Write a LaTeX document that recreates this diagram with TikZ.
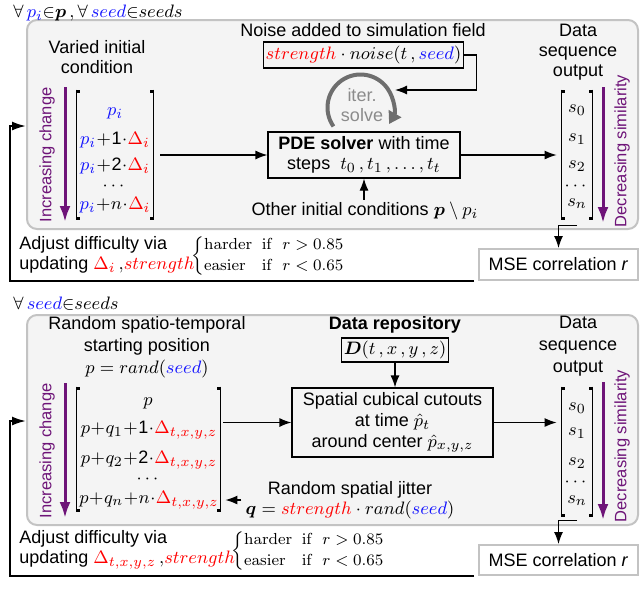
\documentclass[tikz,border=0pt]{standalone}
\usepackage{amsmath}
\usepackage[no-math]{fontspec}
\setmainfont{Liberation Sans}
\usetikzlibrary{arrows.meta,calc}
\definecolor{pur}{RGB}{110,20,120}
\definecolor{boxgray}{RGB}{244,244,244}
\definecolor{bordgray}{RGB}{195,195,195}
\definecolor{itergray}{RGB}{110,110,110}
\definecolor{rd}{RGB}{255,0,0}
\definecolor{bl}{RGB}{20,20,255}
\DeclareMathSizes{9}{9.3}{6.8}{5.5}
\newcommand\redm[1]{{\color{rd}#1}}
\newcommand\bluem[1]{{\color{bl}#1}}
\newcommand\drawbrackets[1]{%
  \draw[line width=0.6pt] (#1.north west) -- (#1.south west);
  \draw[line width=0.6pt] (#1.north east) -- (#1.south east);
  \fill (#1.north west) rectangle ++(3,3);
  \fill (#1.south west) rectangle ++(3,-3);
  \fill (#1.north east) rectangle ++(-3,3);
  \fill (#1.south east) rectangle ++(-3,-3);
}
\begin{document}
\begin{tikzpicture}[x=0.5pt,y=-0.5pt,
  every node/.style={font=\fontsize{9}{10}\selectfont},
  txt/.style={align=center, inner sep=0},
  ent/.style={inner sep=0, execute at begin node={\medmuskip=0.5mu}},
  graybox/.style={draw=bordgray, fill=boxgray, line width=1pt, rounded corners=5pt, inner sep=0},
  blackbox/.style={draw=black, line width=0.6pt, inner sep=1pt},
  msebox/.style={draw=bordgray, line width=1pt, fill=white, minimum width=79.5pt, inner sep=0},
  mat/.style={inner sep=0},
  casestxt/.style={anchor=west, inner sep=0, font=\fontsize{8.5}{10.2}\selectfont},
  arr/.style={line width=0.6pt, -{Latex[length=6pt,width=4.5pt]}},
  parr/.style={draw=pur, line width=1.5pt, -{Latex[length=8pt,width=5.5pt]}},
  fb/.style={line width=1pt, -{Latex[length=7pt,width=4.5pt]}},
  rottxt/.style={rotate=90, text=pur, inner sep=0, font=\fontsize{8.25}{10}\selectfont}]
\useasboundingbox (0,0) rectangle (640,611);

% ================= TOP SECTION =================
\node[graybox, minimum width=305.5pt, minimum height=104.5pt] (g1) at (332.5,124.5) {};
\node[anchor=base west, inner sep=0] (q1) at (13,17) {$\forall\, \bluem{p_i}{\in}\boldsymbol{p}\,, \forall\, \bluem{seed}{\in}seeds$};

\node[txt] (noiselbl) at (363,30) {Noise added to simulation field};
\node[blackbox, minimum width=98.5pt, minimum height=13pt] (noise) at (363.5,55) {$\redm{strength}\cdot noise(t\,,\bluem{seed})$};

\node[txt] (varied) at (97,57) {Varied initial\\condition};
\node[mat, minimum width=38pt, minimum height=65pt] (m1) at (115,155) {};
\drawbrackets{m1}
\node[ent] (e11) at (115,113) {$\bluem{p_i}$};
\node[ent] (e12) at (115,140) {$\bluem{p_i}+\mbox{1}\cdot\redm{\Delta_i}$};
\node[ent] (e13) at (115,166) {$\bluem{p_i}+\mbox{2}\cdot\redm{\Delta_i}$};
\node[ent] (e14) at (115,186) {$\cdots$};
\node[ent] (e15) at (115,205) {$\bluem{p_i}+n\cdot\redm{\Delta_i}$};

\node[blackbox, minimum width=96pt, minimum height=23pt, align=center] (pde) at (364,155) {\textbf{PDE solver} with time\\steps\ \ $t_0\,,t_1\,,\ldots,t_t$};

\coordinate (ic) at (360.5,107.5);
\draw[itergray, line width=2pt, -{Triangle[length=6pt,width=7pt]}] ([shift={(215:16.5pt)}]ic) arc[start angle=215, end angle=-30, radius=16.5pt];
\node[txt, text=itergray!80] (iter) at (362,105.5) {iter.\\solve};
\coordinate (itip) at (395,90);
\draw[arr] (noise.east) -- ++(13,0) |- (itip);

\node[txt] (other) at (365,211) {Other initial conditions $\boldsymbol{p}\setminus p_i$};
\draw[arr] ([yshift=1pt]pde.south |- other.north) -- (pde.south);

\node[txt] (data1) at (578,52) {Data\\sequence\\output};
\node[mat, minimum width=15pt, minimum height=65pt] (s1) at (577,155) {};
\drawbrackets{s1}
\node[ent] (t10) at (577,110) {$s_0$};
\node[ent] (t11) at (577,139) {$s_1$};
\node[ent] (t12) at (577,166) {$s_2$};
\node[ent] (t13) at (577,186) {$\cdots$};
\node[ent] (t14) at (577,204) {$s_n$};

\draw[arr] ([xshift=3.5pt]m1.east) -- (pde.west);
\draw[arr] (pde.east) -- ([xshift=-2.5pt]s1.west);

\coordinate (pa1) at (65,87); \coordinate (pb1) at (65,222);
\draw[parr] (pa1) -- (pb1);
\node[rottxt] (inc1) at (47,155) {Increasing change};
\coordinate (pc1) at (603,87); \coordinate (pd1) at (603,223);
\draw[parr] (pc1) -- (pd1);
\node[rottxt] (dec1) at (622,151) {Decreasing similarity};

\node[msebox, minimum height=15.5pt] (mse1) at (558.5,264.5) {MSE correlation \textit{r}};
\draw[arr] ([yshift=-2.5pt]s1.south) -| (mse1.north);
\coordinate (fbc1) at (10,126);
\draw[fb] ([xshift=-2pt]mse1.south west) -| (fbc1) -- (fbc1 -| g1.west);

\node[anchor=west, align=left, inner sep=0] (adj1) at (19,255) {Adjust difficulty via\\updating $\redm{\Delta_i}\,{,}\redm{strength}$};
\node[casestxt] (cases1) at (191,256) {$\left\{\begin{array}{@{}l@{\ \ }l@{}}\mathrm{harder} & \mathrm{if}\ \ r > 0.85\\ \mathrm{easier} & \mathrm{if}\ \ r < 0.65\end{array}\right.$};

% ================= BOTTOM SECTION =================
\node[graybox, minimum width=305.5pt, minimum height=105pt] (g2) at (332.5,420) {};
\node[anchor=base west, inner sep=0] (q2) at (13,309) {$\forall\, \bluem{seed}{\in}seeds$};

\node[txt, font=\fontsize{9}{11}\selectfont] (rand) at (147,347) {Random spatio-temporal\\starting position\\$p = rand(\bluem{seed})$};
\node[txt, font=\fontsize{9}{10}\selectfont\bfseries] (repo) at (395,325) {Data repository};
\node[blackbox, minimum width=52pt, minimum height=12pt] (D) at (395,350) {$\boldsymbol{D}(t\,,x\,,y\,,z)$};
\node[blackbox, minimum width=100.5pt, minimum height=34.5pt, align=center, font=\fontsize{9}{10.6}\selectfont] (sp) at (392.5,422.5) {Spatial cubical cutouts\\at time $\hat{p}_t$\\around center $\hat{p}_{x,y,z}$};
\draw[arr] (D.south) -- (D.south |- sp.north);

\node[mat, minimum width=71.5pt, minimum height=62.5pt] (m2) at (148.5,449.5) {};
\drawbrackets{m2}
\node[ent] (e21) at (148,403) {$p$};
\node[ent] (e22) at (149,430) {$p+q_1+\mbox{1}\cdot\redm{\Delta_{t,x,y,z}}$};
\node[ent] (e23) at (149,460) {$p+q_2+\mbox{2}\cdot\redm{\Delta_{t,x,y,z}}$};
\node[ent] (e24) at (149,479) {$\cdots$};
\node[ent] (e25) at (149,500) {$p+q_n+n\cdot\redm{\Delta_{t,x,y,z}}$};

\node[txt, font=\fontsize{9}{11}\selectfont] (data2) at (578,346) {Data\\sequence\\output};
\node[mat, minimum width=15pt, minimum height=65pt] (s2) at (577,452) {};
\drawbrackets{s2}
\node[ent] (t20) at (577,408) {$s_0$};
\node[ent] (t21) at (577,433) {$s_1$};
\node[ent] (t22) at (577,463) {$s_2$};
\node[ent] (t23) at (577,482) {$\cdots$};
\node[ent] (t24) at (577,501) {$s_n$};

\draw[arr] ([xshift=1.5pt]sp.west -| m2.east) -- (sp.west);
\draw[arr] (sp.east) -- ([xshift=-2.5pt]sp.east -| s2.west);

\node[txt] (jit) at (350,500) {Random spatial jitter\\$\boldsymbol{q} = \redm{strength}\cdot rand(\bluem{seed})$};
\draw[arr] ([xshift=-2pt]jit.west) -- ([xshift=2.5pt]jit.west -| m2.east);

\coordinate (pa2) at (65,383); \coordinate (pb2) at (65,518);
\draw[parr] (pa2) -- (pb2);
\node[rottxt] (inc2) at (47,451) {Increasing change};
\coordinate (pc2) at (603,382); \coordinate (pd2) at (603,520);
\draw[parr] (pc2) -- (pd2);
\node[rottxt] (dec2) at (622,446) {Decreasing similarity};

\node[msebox, minimum height=15pt] (mse2) at (558.5,560) {MSE correlation \textit{r}};
\draw[arr] ([yshift=-1.5pt]s2.south) -| (mse2.north);
\coordinate (fbc2) at (10,421);
\draw[fb] ([xshift=-2pt]mse2.south west) -| (fbc2) -- (fbc2 -| g2.west);

\node[anchor=west, align=left, inner sep=0] (adj2) at (19,550) {Adjust difficulty via\\updating $\redm{\Delta_{t,x,y,z}}\,{,}\redm{strength}$};
\node[casestxt] (cases2) at (231,551) {$\left\{\begin{array}{@{}l@{\ \ }l@{}}\mathrm{harder} & \mathrm{if}\ \ r > 0.85\\ \mathrm{easier} & \mathrm{if}\ \ r < 0.65\end{array}\right.$};
\end{tikzpicture}
\end{document}
